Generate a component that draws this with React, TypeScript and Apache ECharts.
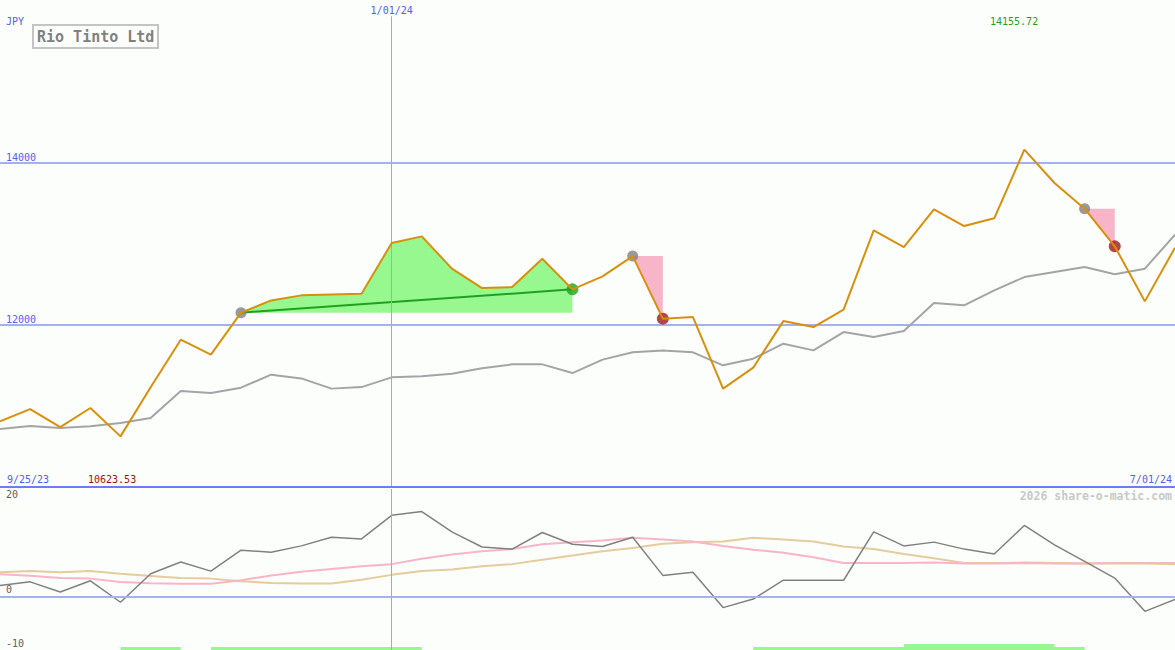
import React, { useEffect, useRef } from "react";
import * as echarts from "echarts";

// weekly closes
const dates = [
  "10/02/23", "10/09/23", "10/16/23", "10/23/23", "10/30/23", "11/06/23", "11/13/23", "11/20/23",
  "11/27/23", "12/04/23", "12/11/23", "12/18/23", "12/25/23", "1/01/24", "1/08/24", "1/15/24",
  "1/22/24", "1/29/24", "2/05/24", "2/12/24", "2/19/24", "2/26/24", "3/04/24", "3/11/24",
  "3/18/24", "3/25/24", "4/01/24", "4/08/24", "4/15/24", "4/22/24", "4/29/24", "5/06/24",
  "5/13/24", "5/20/24", "5/27/24", "6/03/24", "6/10/24", "6/17/24", "6/24/24", "7/01/24",
];

const price = [
  10809, 10960, 10738, 10973, 10623.53, 11228, 11815, 11630, 12148, 12299,
  12361, 12373, 12380, 13005, 13088, 12690, 12451, 12463, 12813, 12435,
  12595, 12845, 12074, 12094, 11212, 11470, 12044, 11970, 12185, 13162,
  12956, 13420, 13215, 13310, 14155.72, 13745, 13429, 12965, 12287, 12949,
];

const movingAvg = [
  10714, 10751, 10726, 10747, 10788, 10849, 11182, 11157, 11224, 11384,
  11338, 11212, 11231, 11351, 11363, 11394, 11462, 11511, 11511, 11404,
  11569, 11659, 11683, 11659, 11499, 11581, 11766, 11683, 11909, 11847,
  11921, 12266, 12238, 12423, 12586, 12648, 12710, 12620, 12690, 13109,
];

const oscillator = [
  2.0, 2.7, 0.8, 2.9, -1.1, 4.2, 6.4, 4.7, 8.6, 8.2,
  9.4, 11.0, 10.7, 15.1, 15.8, 12.0, 9.2, 8.8, 11.9, 9.7,
  9.3, 11.0, 3.9, 4.5, -2.1, -0.5, 3.0, 3.0, 3.0, 12.0,
  9.4, 10.1, 8.8, 7.9, 13.2, 9.6, 6.5, 3.4, -2.8, -0.6,
];

const signalPink = [
  4.1, 3.85, 3.4, 3.3, 2.65, 2.45, 2.35, 2.35, 3.0, 3.9,
  4.6, 5.1, 5.6, 6.0, 7.0, 7.8, 8.4, 8.8, 9.7, 10.1,
  10.4, 10.9, 10.6, 10.2, 9.4, 8.7, 8.1, 7.3, 6.2, 6.2,
  6.2, 6.3, 6.1, 6.1, 6.2, 6.1, 6.1, 6.2, 6.2, 6.2,
];

const signalTan = [
  4.5, 4.7, 4.5, 4.7, 4.2, 3.8, 3.4, 3.3, 2.8, 2.5,
  2.4, 2.4, 3.1, 4.0, 4.7, 5.0, 5.6, 6.0, 6.8, 7.6,
  8.4, 9.0, 9.8, 10.1, 10.2, 10.9, 10.6, 10.2, 9.3, 8.8,
  7.9, 7.1, 6.2, 6.2, 6.3, 6.2, 6.1, 6.1, 6.1, 6.0,
];

const priceTicks = [12000, 14000];
const oscTicks = [20, 0, -10];
const markerDate = "1/01/24";

// [entry index, exit index]
const winTrades = [[8, 19]];
const lossTrades = [[21, 22], [36, 37]];
// [start index, end index, level]
const activeBands = [[4, 6, 0.55], [7, 14, 0.55], [25, 36, 0.55], [30, 35, 1.1]];

const startLabel = "9/25/23";
const endLabel = "7/01/24";
const minLabel = "10623.53";
const maxLabel = "14155.72";
const title = "Rio Tinto Ltd";
const currency = "JPY";
const credit = "2026 share-o-matic.com";

const MONO = "'DejaVu Sans Mono', monospace";
const BLUE_TEXT = "#5060f0";
const GRID_BLUE = "#a4b0f0";

export default function App() {
  const ref = useRef<HTMLDivElement>(null);

  useEffect(() => {
    if (!ref.current) return;
    const chart = echarts.init(ref.current, undefined, { renderer: "svg" });
    const markIdx = dates.indexOf(markerDate);

    const option: any = {
      animation: false,
      backgroundColor: "#fcfefc",
      grid: [
        { left: 0, right: 0, top: -1, height: 488 },
        { left: 0, right: 0, top: 489, height: 161 },
      ],
      xAxis: [
        {
          type: "category", data: dates, boundaryGap: false, gridIndex: 0,
          axisLine: { show: true, onZero: false, lineStyle: { color: "#6c7cf2", width: 2 } },
          axisTick: { show: false }, axisLabel: { show: false }, splitLine: { show: false },
          z: 5,
        },
        {
          type: "category", data: dates, boundaryGap: false, gridIndex: 1,
          axisLine: { show: false }, axisTick: { show: false }, axisLabel: { show: false },
          splitLine: { show: false },
        },
      ],
      yAxis: [
        {
          type: "value", gridIndex: 0, min: 10000, max: 16000, interval: 2000,
          axisLine: { show: false }, axisTick: { show: false },
          splitLine: {
            show: true, showMinLine: false, showMaxLine: false,
            lineStyle: { color: GRID_BLUE, width: 2 },
          },
          axisLabel: {
            inside: true, margin: 6, verticalAlign: "bottom", color: BLUE_TEXT,
            fontFamily: MONO, fontSize: 10,
            formatter: (v: number) => (priceTicks.includes(v) ? String(v) : ""),
          },
        },
        {
          type: "value", gridIndex: 1, min: -10, max: 20, interval: 10,
          axisLine: { show: false }, axisTick: { show: false }, splitLine: { show: false },
          axisLabel: {
            inside: true, margin: 6, verticalAlign: "bottom", verticalAlignMaxLabel: "top",
            color: "#606060", fontFamily: MONO, fontSize: 10, padding: [0, 0, 2, 0],
            formatter: (v: number) => (oscTicks.includes(v) ? String(v) : ""),
          },
        },
      ],
      series: [
        {
          type: "custom", xAxisIndex: 0, yAxisIndex: 0, z: 1, data: winTrades,
          renderItem: (_p: any, api: any) => {
            const s = api.value(0), e = api.value(1);
            const base = price[s];
            const pts: number[][] = [];
            for (let i = s; i <= e; i++) pts.push(api.coord([i, price[i]]));
            pts.push(api.coord([e, base]));
            pts.push(api.coord([s, base]));
            return { type: "polygon", shape: { points: pts }, style: { fill: "#98f890" } };
          },
        },
        {
          type: "custom", xAxisIndex: 0, yAxisIndex: 0, z: 1, data: lossTrades,
          renderItem: (_p: any, api: any) => {
            const s = api.value(0), e = api.value(1);
            const pts = [
              api.coord([s, price[s]]),
              api.coord([e, price[s]]),
              api.coord([e, price[e]]),
            ];
            return { type: "polygon", shape: { points: pts }, style: { fill: "#f8b4c8" } };
          },
        },
        {
          type: "line", xAxisIndex: 0, yAxisIndex: 0, z: 2, data: movingAvg,
          showSymbol: false, symbol: "none",
          lineStyle: { color: "#a4a4a4", width: 2 },
          markLine: {
            silent: true, symbol: "none",
            lineStyle: { color: "#98a4f6", width: 1, type: "solid" },
            label: {
              show: true, position: "start", distance: 1, formatter: markerDate,
              color: BLUE_TEXT, fontFamily: MONO, fontSize: 10,
            },
            data: [[{ coord: [markIdx, 15800] }, { coord: [markIdx, 10000] }]],
          },
        },
        {
          type: "line", xAxisIndex: 0, yAxisIndex: 0, z: 3,
          data: winTrades.map(([s, e]) => [[s, price[s]], [e, price[e]]]).flat(),
          showSymbol: false, symbol: "none",
          lineStyle: { color: "#20a020", width: 2 },
        },
        {
          type: "scatter", xAxisIndex: 0, yAxisIndex: 0, z: 4, symbolSize: 11,
          itemStyle: { color: "#808080" },
          data: [...winTrades, ...lossTrades].map(([s]) => [s, price[s]]),
        },
        {
          type: "scatter", xAxisIndex: 0, yAxisIndex: 0, z: 4, symbolSize: 12,
          itemStyle: { color: "#20a020" },
          data: winTrades.map(([, e]) => [e, price[e]]),
        },
        {
          type: "scatter", xAxisIndex: 0, yAxisIndex: 0, z: 4, symbolSize: 12,
          itemStyle: { color: "#a01818" },
          data: lossTrades.map(([, e]) => [e, price[e]]),
        },
        {
          type: "line", xAxisIndex: 0, yAxisIndex: 0, z: 5, data: price,
          showSymbol: false, symbol: "none",
          lineStyle: { color: "#d8900c", width: 2 },
        },
        {
          type: "custom", xAxisIndex: 1, yAxisIndex: 1, z: 1, data: activeBands,
          renderItem: (_p: any, api: any) => {
            const a = api.coord([api.value(0), -10 + api.value(2)]);
            const b = api.coord([api.value(1), -10]);
            return {
              type: "rect",
              shape: { x: a[0], y: a[1], width: b[0] - a[0], height: b[1] - a[1] },
              style: { fill: "#98f890" },
            };
          },
        },
        {
          type: "line", xAxisIndex: 1, yAxisIndex: 1, z: 2, data: signalTan,
          showSymbol: false, symbol: "none", lineStyle: { color: "#e4cc9c", width: 2 },
        },
        {
          type: "line", xAxisIndex: 1, yAxisIndex: 1, z: 2, data: signalPink,
          showSymbol: false, symbol: "none", lineStyle: { color: "#f8b4c8", width: 2 },
        },
        {
          type: "line", xAxisIndex: 1, yAxisIndex: 1, z: 3, data: oscillator,
          showSymbol: false, symbol: "none", lineStyle: { color: "#808080", width: 1.5 },
          markLine: {
            silent: true, symbol: "none", label: { show: false },
            data: [
              { yAxis: 0, lineStyle: { color: GRID_BLUE, width: 2, type: "solid" } },
              { xAxis: markIdx, lineStyle: { color: "#98a4f6", width: 1, type: "solid" } },
            ],
          },
        },
      ],
      graphic: [
        { type: "text", x: 6, y: 21, style: { text: currency, fill: BLUE_TEXT, font: `10px ${MONO}`, verticalAlign: "middle" } },
        { type: "rect", shape: { x: 33, y: 25, width: 125, height: 23 }, style: { fill: "none", stroke: "#c4c4c4", lineWidth: 2 } },
        { type: "text", x: 37, y: 37, style: { text: title, fill: "#808080", font: `bold 15px ${MONO}`, verticalAlign: "middle" } },
        { type: "text", x: 990, y: 21, style: { text: maxLabel, fill: "#20a020", font: `10px ${MONO}`, verticalAlign: "middle" } },
        { type: "text", x: 7, y: 479, style: { text: startLabel, fill: BLUE_TEXT, font: `10px ${MONO}`, verticalAlign: "middle" } },
        { type: "text", x: 88, y: 479, style: { text: minLabel, fill: "#a01010", font: `10px ${MONO}`, verticalAlign: "middle" } },
        { type: "text", x: 1172, y: 479, style: { text: endLabel, fill: BLUE_TEXT, font: `10px ${MONO}`, align: "right", verticalAlign: "middle" } },
        { type: "text", x: 1172, y: 496, style: { text: credit, fill: "#c8c8c8", font: `bold 11.5px ${MONO}`, align: "right", verticalAlign: "middle" } },
      ],
    };

    chart.setOption(option);
    return () => chart.dispose();
  }, []);

  return (
    <div
      ref={ref}
      style={{ position: "fixed", left: 0, top: 0, width: 1175, height: 650, background: "#fcfefc" }}
    />
  );
}
